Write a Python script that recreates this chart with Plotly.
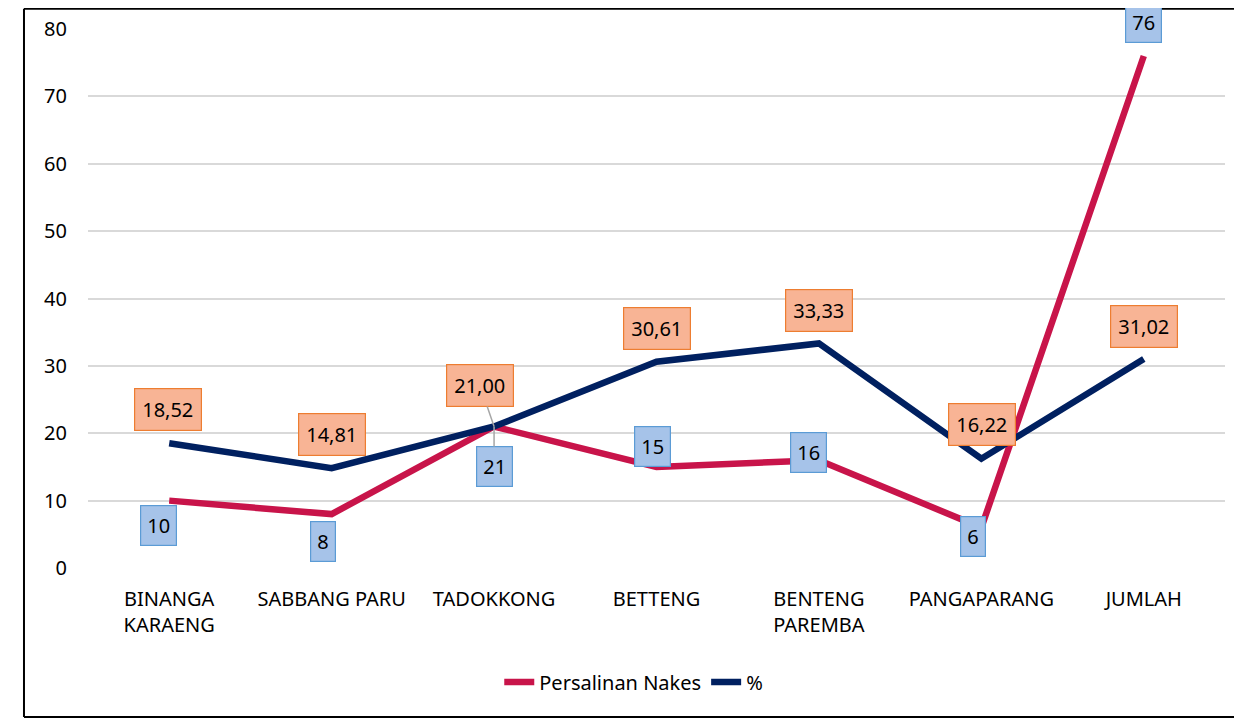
import plotly.graph_objects as go

categories = ["BINANGA<br>KARAENG", "SABBANG PARU", "TADOKKONG", "BETTENG",
              "BENTENG<br>PAREMBA", "PANGAPARANG", "JUMLAH"]
persalinan = [10, 8, 21, 15, 16, 6, 76]
persen = [18.52, 14.81, 21.00, 30.61, 33.33, 16.22, 31.02]
persen_labels = ["18,52", "14,81", "21,00", "30,61", "33,33", "16,22", "31,02"]
persalinan_labels = ["10", "8", "21", "15", "16", "6", "76"]

RED = "#C8144A"
NAVY = "#002060"
FONT = "Noto Sans"

fig = go.Figure()
fig.add_trace(go.Scatter(x=categories, y=persalinan, mode="lines", name="Persalinan Nakes",
                         line=dict(color=RED, width=6.5)))
fig.add_trace(go.Scatter(x=categories, y=persen, mode="lines", name="%",
                         line=dict(color=NAVY, width=6.5)))

# label offsets (pixels)
orange_off = [(-1, 34), (0, 34), None, (0, 33), (0, 33), (1, 34), (0, 33)]
blue_off = [(-11, -25), (-9, -27), None, (-4, 20), (-10, 8), (-8, -9), (0, 33)]

ann = []
for i, c in enumerate(categories):
    base_o = dict(x=c, y=persen[i], text=persen_labels[i],
                  font=dict(family=FONT, size=20, color="#000000"),
                  bgcolor="#F8B495", bordercolor="#ED7D31", borderwidth=1.2, borderpad=7)
    if orange_off[i] is None:
        base_o.update(showarrow=True, ax=-14, ay=-41, arrowhead=0, arrowwidth=1.5,
                      arrowcolor="#A6A6A6", standoff=0)
    else:
        base_o.update(showarrow=False, xshift=orange_off[i][0], yshift=orange_off[i][1])
    ann.append(base_o)
    base_b = dict(x=c, y=persalinan[i], text=persalinan_labels[i],
                  font=dict(family=FONT, size=20, color="#000000"),
                  bgcolor="#A6C3E9", bordercolor="#5B9BD5", borderwidth=1.2, borderpad=6)
    if blue_off[i] is None:
        base_b.update(showarrow=True, ax=0, ay=40, arrowhead=0, arrowwidth=1.5,
                      arrowcolor="#A6A6A6", standoff=0)
    else:
        base_b.update(showarrow=False, xshift=blue_off[i][0], yshift=blue_off[i][1])
    ann.append(base_b)

border = dict(color="#000000", width=2)
X0, X1, Y0, Y1 = -0.0563, 1.03, -0.2765, 1.0375
fig.update_layout(
    width=1234, height=712,
    margin=dict(l=80, r=17, t=21, b=152, autoexpand=False),
    paper_bgcolor="white", plot_bgcolor="white",
    font=dict(family=FONT, size=20, color="#000000"),
    showlegend=True,
    legend=dict(orientation="h", x=0.48, xanchor="center", y=-0.2115, yanchor="middle",
                font=dict(family=FONT, size=20, color="#000000"), itemwidth=30),
    annotations=ann,
    shapes=[
        dict(type="line", xref="paper", yref="paper", x0=X0, x1=X0, y0=Y0, y1=Y1, line=border, layer="below"),
        dict(type="line", xref="paper", yref="paper", x0=X0, x1=X1, y0=Y1, y1=Y1, line=border, layer="below"),
        dict(type="line", xref="paper", yref="paper", x0=X0, x1=X1, y0=Y0, y1=Y0, line=border, layer="below"),
    ],
)
fig.update_xaxes(type="category", range=[-0.5, 6.5], showgrid=False, showline=False,
                 zeroline=False, ticks="", ticklabelstandoff=17, automargin=False,
                 tickfont=dict(family=FONT, size=20, color="#000000"))
fig.update_yaxes(range=[0, 80], dtick=10, showgrid=True, gridcolor="#D9D9D9", gridwidth=1.5,
                 zeroline=False, showline=False, ticks="", ticklabelstandoff=20, automargin=False,
                 tickfont=dict(family=FONT, size=20, color="#000000"))

fig.write_html("out.html")
